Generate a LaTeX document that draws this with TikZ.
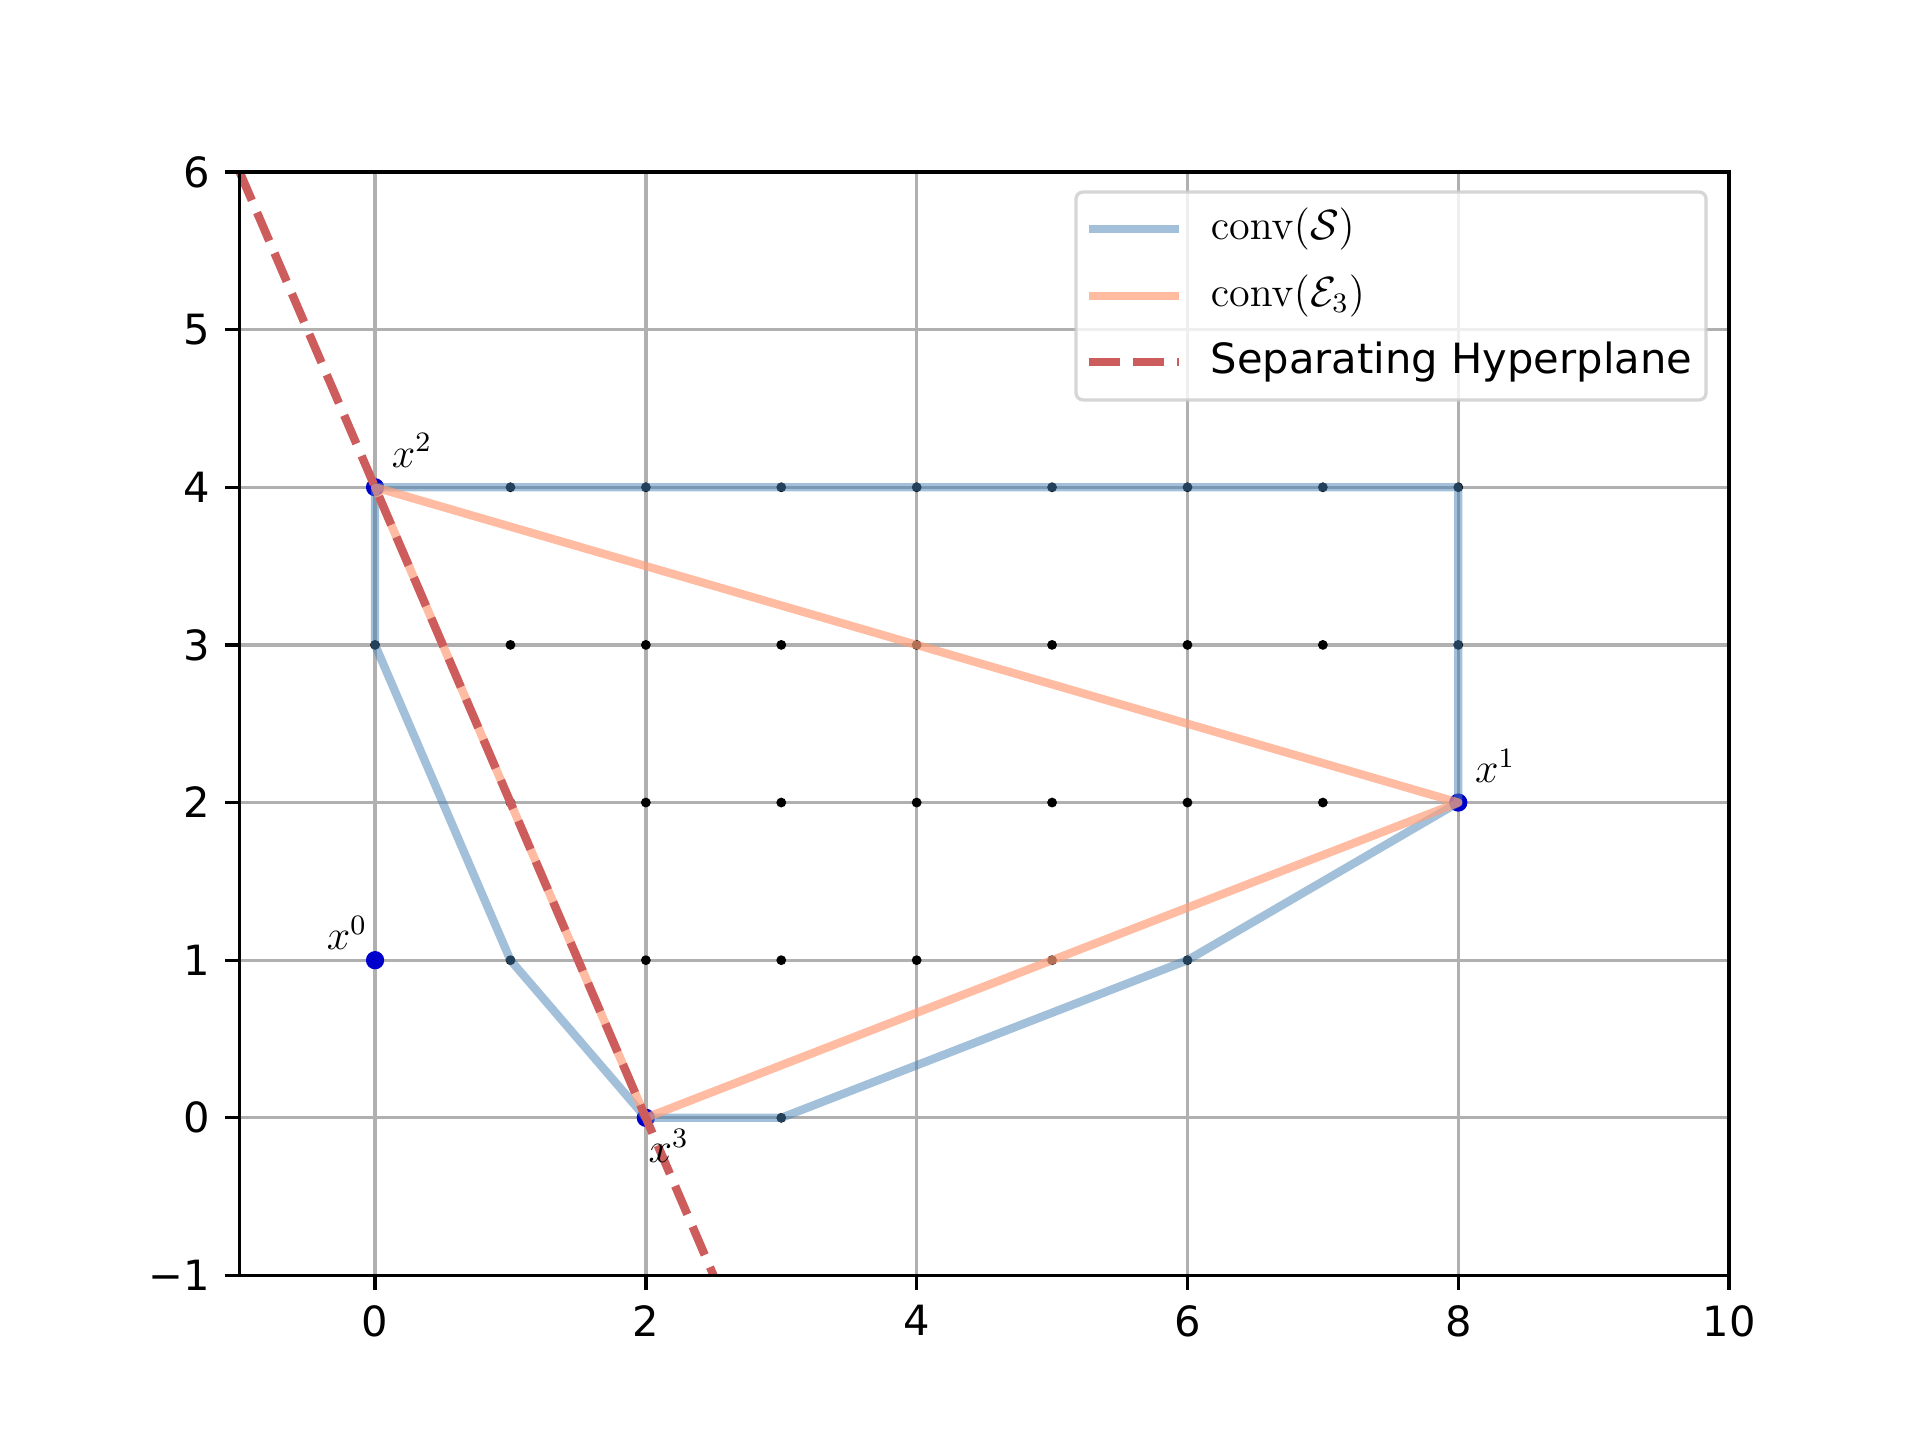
\documentclass[tikz,border=0pt]{standalone}
\usepackage{amsmath, amssymb}
\usepackage[no-math]{fontspec}
\setmainfont{DejaVu Sans}
\usetikzlibrary{positioning}

\definecolor{steelblue}{RGB}{70,130,180}
\definecolor{lightsalmon}{RGB}{255,160,122}
\definecolor{indianred}{RGB}{205,92,92}
\definecolor{gridgray}{RGB}{176,176,176}
\definecolor{ptblue}{RGB}{0,0,205}
\definecolor{framegray}{RGB}{204,204,204}

\begin{document}
\begin{tikzpicture}[
    x=1.354cm, y=1.5764cm,
    font=\fontsize{11.85}{14}\selectfont,
    gridline/.style={gridgray, line width=0.95pt},
    spine/.style={black, line width=0.95pt},
    hullS/.style={steelblue, opacity=0.5, line width=2.37pt, line join=round},
    hullE/.style={lightsalmon, opacity=0.7, line width=2.37pt, line join=round},
    sepline/.style={indianred, line width=2.37pt, dash pattern=on 8.77pt off 3.79pt},
    ticklbl/.style={inner sep=0pt},
    ptlbl/.style={inner sep=0pt},
    legendframe/.style={draw=framegray, draw opacity=0.8, fill=white, fill opacity=0.8, line width=0.95pt, rounded corners=2pt},
]
    \useasboundingbox (-2.770,-1.999) rectangle (11.41,7.091);

    % grid
    \foreach \gx in {0,2,...,8}
        \draw[gridline] (\gx,-1) -- (\gx,6);
    \foreach \gy in {0,...,5}
        \draw[gridline] (-1,\gy) -- (10,\gy);

    % lattice points of S
    \foreach \py/\pa/\pb in {4/0/8, 3/0/8, 2/1/8, 1/1/6, 0/2/3}
        \foreach \px in {\pa,...,\pb}
            \fill (\px,\py) circle (1.4pt);

    \coordinate (x0) at (0,1);
    \coordinate (x1) at (8,2);
    \coordinate (x2) at (0,4);
    \coordinate (x3) at (2,0);
    \foreach \pt in {x0,x1,x2,x3}
        \fill[ptblue] (\pt) circle (2.6pt);

    % hulls
    \draw[hullS] (0,3) -- (x2) -- (8,4) -- (x1) -- (6,1) -- (3,0) -- (x3) -- (1,1) -- cycle;
    \draw[hullE] (x2) -- (x1) -- (x3) -- cycle;

    % separating hyperplane
    \coordinate (hA) at (-1,6);
    \coordinate (hB) at (2.5,-1);
    \draw[sepline] (hA) -- (hB);

    \node[ptlbl, anchor=base east, xshift=-2.1pt, yshift=3pt] (lbl0) at (x0) {$x^0$};
    \node[ptlbl, anchor=base west, xshift=4.6pt, yshift=5.7pt] (lbl1) at (x1) {$x^1$};
    \node[ptlbl, anchor=base west, xshift=4.6pt, yshift=5.7pt] (lbl2) at (x2) {$x^2$};
    \node[ptlbl, anchor=base west, xshift=0.6pt, yshift=-12.8pt] (lbl3) at (x3) {$x^3$};

    % axes
    \draw[spine] (-1,-1) rectangle (10,6);
    \foreach \tx in {0,2,...,10} {
        \draw[spine] (\tx,-1) -- ++(0,-4.15pt);
        \node[ticklbl, anchor=north, yshift=-8.3pt] (xt\tx) at (\tx,-1) {\tx};
    }
    \foreach \ty/\tl in {-1/−1,0/0,1/1,2/2,3/3,4/4,5/5,6/6} {
        \draw[spine] (-1,\ty) -- ++(-4.15pt,0);
        \node[ticklbl, anchor=east, xshift=-8.3pt] (yt\ty) at (-1,\ty) {\tl};
    }

    % legend
    \draw[legendframe] (5.177,4.554) rectangle (9.830,5.873);
    \coordinate (legS) at (5.273,5.639);
    \coordinate (legE) at (5.273,5.214);
    \coordinate (legH) at (5.273,4.796);
    \draw[hullS, line cap=butt] (legS) -- ++(0.665,0);
    \draw[hullE, line cap=butt] (legE) -- ++(0.665,0);
    \draw[sepline] (legH) -- ++(0.665,0);
    \node[ticklbl, anchor=west] (txtS) at (6.167,5.639) {$\mathrm{conv}(\mathcal{S})$};
    \node[ticklbl, anchor=west] (txtE) at (6.167,5.214) {$\mathrm{conv}(\mathcal{E}_3)$};
    \node[ticklbl, anchor=west] (txtH) at (6.167,4.796) {Separating Hyperplane};
\end{tikzpicture}
\end{document}
